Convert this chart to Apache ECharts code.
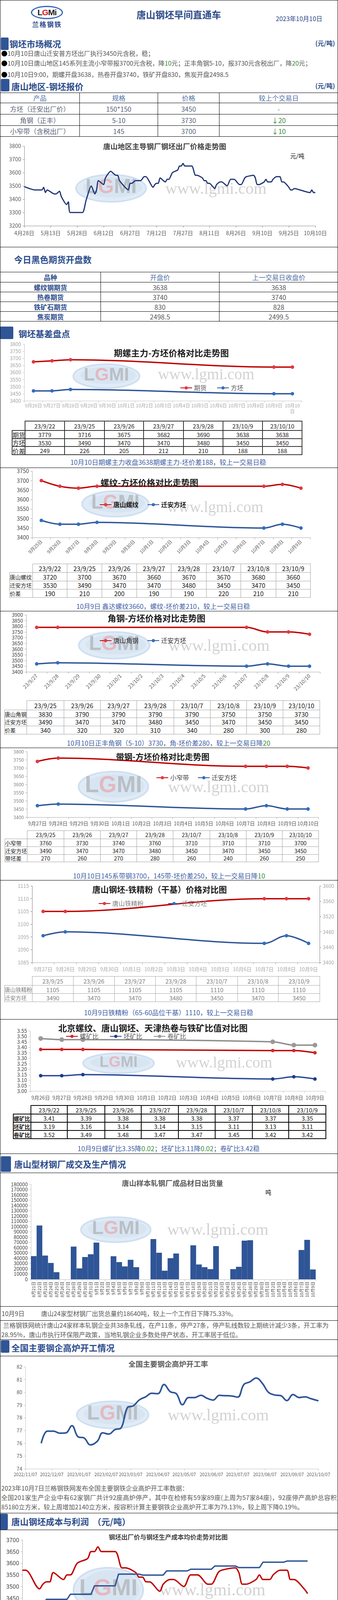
<!DOCTYPE html>
<html lang="zh-CN">
<head>
<meta charset="utf-8">
<title>唐山钢坯早间直通车</title>
<script src="https://cdn.jsdelivr.net/npm/echarts@6/dist/echarts.min.js"></script>
<style>
html,body{margin:0;padding:0;background:#fff;}
#page{position:relative;width:864px;height:4286px;overflow:hidden;font-family:"Noto Sans CJK SC","Noto Sans",sans-serif;color:#595959;background:#fff;}
.g{color:#3C8C3C;}
</style>
</head>
<body>
<div id="page"></div>
<script>
// ================= DATA =================
const quoteProducts = ['方坯（迁安出厂价）','角钢（正丰）','小窄带（含税出厂）'];
const quoteSpecs    = ['150*150','5-10','145'];
const quotePrices   = ['3450','3730','3700'];
const quoteChanges  = ['-','↓20','↓10'];

const futNames     = ['螺纹钢期货','热卷期货','铁矿石期货','焦炭期货'];
const futOpen      = ['3638','3740','830','2498.5'];
const futPrevClose = ['3638','3740','828','2499.5'];

// 迁安方坯出厂价 (chart 1 and chart 10)
const billetDates = ['04-28','05-01','05-04','05-08','05-09','05-10','05-11','05-15','05-16','05-18','05-19','05-22','05-23','05-24','05-31','06-02','06-05','06-07','06-08','06-09','06-12','06-13','06-16','06-19','06-20','06-21','06-26','06-27','06-28','06-30','07-03','07-05','07-06','07-10','07-11','07-12','07-13','07-14','07-17','07-18','07-19','07-21','07-24','07-25','07-26','07-27','07-28','08-01','08-03','08-04','08-07','08-08','08-09','08-10','08-11','08-14','08-15','08-17','08-18','08-21','08-23','08-25','08-28','08-29','08-31','09-01','09-05','09-06','09-07','09-08','09-11','09-12','09-13','09-15','09-16','09-18','09-20','09-21','09-22','09-25','09-26','09-27','09-28','10-07','10-08','10-09','10-10'];
const billetPrices = [3495,3480,3470,3470,3490,3450,3470,3440,3440,3460,3420,3360,3380,3300,3300,3390,3500,3440,3470,3540,3510,3560,3610,3580,3580,3540,3470,3520,3520,3540,3540,3570,3570,3490,3510,3520,3520,3560,3530,3550,3550,3600,3620,3650,3650,3670,3650,3650,3580,3580,3560,3540,3540,3520,3520,3480,3510,3530,3530,3500,3550,3550,3510,3510,3560,3570,3580,3560,3510,3510,3530,3550,3530,3530,3550,3570,3570,3530,3530,3490,3470,3470,3480,3450,3470,3450,3450];

// 期螺主力-方坯
const c2Cats     = ['9/26','9/27','9/28','9/29','9/30','10/1','10/2','10/3','10/4','10/5','10/6','10/7','10/8','10/9','10/10'];
const c2TabDates = ['9/22','9/25','9/26','9/27','9/28','10/9','10/10'];
const c2Futures  = [3779,3716,3675,3682,3690,3638,3638];
const c2Billet   = [3530,3490,3470,3470,3480,3450,3450];
const c2Spread   = [249,226,205,212,210,188,188];

// 螺纹-方坯
const c3Cats     = ['9/25','9/26','9/27','9/28','9/29','9/30','10/1','10/2','10/3','10/4','10/5','10/6','10/7','10/8','10/9'];
const c3TabDates = ['9/22','9/25','9/26','9/27','9/28','10/7','10/8','10/9'];
const c3Rebar    = [3720,3700,3670,3660,3670,3670,3680,3660];
const c3Billet   = [3530,3490,3470,3470,3480,3450,3470,3450];
const c3Spread   = [190,210,200,190,190,220,210,210];

// 角钢-方坯
const c4Cats     = ['9/27','9/28','9/29','9/30','10/1','10/2','10/3','10/4','10/5','10/6','10/7','10/8','10/9','10/10'];
const c4TabDates = ['9/25','9/26','9/27','9/28','10/7','10/8','10/9','10/10'];
const c4Angle    = [3830,3790,3790,3790,3790,3750,3750,3730];
const c4Billet   = [3490,3470,3470,3480,3450,3470,3450,3450];
const c4Spread   = [340,320,320,310,340,280,300,280];

// 带钢-方坯
const c5Cats     = ['9/27','9/28','9/29','9/30','10/1','10/2','10/3','10/4','10/5','10/6','10/7','10/8','10/9','10/10'];
const c5TabDates = ['9/25','9/26','9/27','9/28','10/7','10/8','10/9','10/10'];
const c5Strip    = [3760,3730,3740,3760,3710,3710,3710,3700];
const c5Billet   = [3490,3470,3470,3480,3450,3470,3450,3450];
const c5Spread   = [270,260,270,280,260,240,260,250];

// 钢坯-铁精粉
const c6Cats     = ['9/27','9/28','9/29','9/30','10/1','10/2','10/3','10/4','10/5','10/6','10/7','10/8','10/9'];
const c6TabDates = ['9/25','9/26','9/27','9/28','10/7','10/8','10/9'];
const c6Ore      = [1105,1105,1105,1105,1110,1110,1110];
const c6Billet   = [3490,3470,3470,3480,3450,3470,3450];

// 比值
const c7Cats     = ['9/26','9/27','9/28','9/29','9/30','10/1','10/2','10/3','10/4','10/5','10/6','10/7','10/8','10/9'];
const c7TabDates = ['9/22','9/25','9/26','9/27','9/28','10/7','10/8','10/9'];
const c7Rebar    = [3.41,3.39,3.38,3.38,3.38,3.37,3.37,3.35];
const c7Billet   = [3.19,3.16,3.14,3.14,3.15,3.11,3.13,3.11];
const c7Coil     = [3.52,3.49,3.48,3.47,3.47,3.45,3.42,3.42];

// 唐山样本轧钢厂成品材日出货量
const c8Dates = ['8月21日','8月22日','8月23日','8月24日','8月25日','8月26日','8月27日','8月28日','8月29日','8月30日','8月31日','9月1日','9月2日','9月3日','9月4日','9月5日','9月6日','9月7日','9月8日','9月9日','9月10日','9月11日','9月12日','9月13日','9月14日','9月15日','9月16日','9月17日','9月18日','9月19日','9月20日','9月21日','9月22日','9月23日','9月24日','9月25日','9月26日','9月27日','9月28日','9月29日','9月30日','10月1日','10月2日','10月3日','10月4日','10月5日','10月6日','10月7日','10月8日','10月9日'];
const c8Values = [44000,102000,45000,31000,13500,null,null,62000,20700,42200,47400,69600,null,null,43700,32600,24400,37000,23000,null,null,76300,50400,16300,40000,48900,null,null,64400,28100,23000,19300,63000,null,null,19300,23700,73300,74100,null,null,null,null,null,null,null,null,55600,74800,18640];

// 全国主要钢企高炉开工率
const bfDates = ['2022-11-25','2022-12-02','2022-12-09','2022-12-16','2022-12-23','2022-12-30','2023-01-06','2023-01-13','2023-01-20','2023-01-28','2023-02-03','2023-02-10','2023-02-17','2023-02-24','2023-03-03','2023-03-10','2023-03-17','2023-03-24','2023-03-31','2023-04-07','2023-04-14','2023-04-21','2023-04-28','2023-05-05','2023-05-12','2023-05-19','2023-05-26','2023-06-02','2023-06-09','2023-06-16','2023-06-21','2023-06-30','2023-07-07','2023-07-14','2023-07-21','2023-07-28','2023-08-04','2023-08-11','2023-08-18','2023-08-25','2023-09-01','2023-09-08','2023-09-15','2023-09-22','2023-09-28','2023-10-07'];
const bfRates = [76.0,76.95,76.95,76.79,76.81,77.38,76.51,76.41,75.87,76.16,76.82,76.72,77.07,77.2,78.77,78.94,79.41,79.64,79.92,79.89,80.61,80.05,79.89,79.02,79.59,79.59,79.76,79.53,79.39,79.76,79.74,79.71,79.62,80.61,80.82,81.12,80.71,80.0,79.79,79.74,79.35,79.82,79.59,79.64,79.51,79.33];

// 钢坯成本均值（月度累计）
const costDates  = ['07-05','07-11','07-12','07-18','07-19','07-25','07-26','08-01','08-02','08-08','08-09','08-15','08-16','08-22','08-23','08-29','08-30','09-05','09-06','09-12','09-13','09-19','09-20','09-26'];
const costValues = [3422,3422,3445,3445,3467,3467,3503,3503,3553,3553,3549,3549,3567,3567,3574,3574,3588,3588,3581,3581,3604,3604,3609,3609];

// ================= HELPERS =================
const page = document.getElementById('page');
const FF = '"Noto Sans CJK SC","Noto Sans",sans-serif';
const plain = v => String(v);
function el(css, html){ const e=document.createElement('div'); e.style.cssText=css; if(html!=null) e.innerHTML=html; page.appendChild(e); return e; }
function txt(x,y,html,css){ return el(`position:absolute;left:${x}px;top:${y}px;transform:translateY(-50%);line-height:1.2;white-space:nowrap;${css||''}`, html); }
function ctxt(cx,y,html,css){ return el(`position:absolute;left:${cx-420}px;width:840px;text-align:center;top:${y}px;transform:translateY(-50%);line-height:1.2;white-space:nowrap;${css||''}`, html); }
function hline(y){ el(`position:absolute;left:0;top:${y}px;width:864px;height:0;border-top:1.5px solid #000;`); }
function sbar(x,y,w,h){ el(`position:absolute;left:${x}px;top:${y}px;width:${w}px;height:${h}px;background:#2F5597;border-radius:3px;`); }
function sect(x,y,t){ txt(x,y,t,'font-size:22px;font-weight:bold;color:#2B4C8C;'); }
function note(cx,y,h){ ctxt(cx,y,h,'font-size:17px;color:#3F5FA8;'); }
function table(left, top, colW, rowH, rows, o){
  let h = `<table style="position:absolute;left:${left}px;top:${top}px;border-collapse:collapse;table-layout:fixed;width:${colW.reduce((a,b)=>a+b,0)}px;font-size:${o.fs}px;color:${o.color};font-family:${FF.replace(/"/g,"'")};">`;
  h += '<colgroup>' + colW.map(w=>`<col style="width:${w}px">`).join('') + '</colgroup>';
  rows.forEach((r,i)=>{
    h += `<tr style="height:${rowH[i]}px">`;
    r.forEach((c,j)=>{
      let st = `border:${o.border};padding:0;text-align:center;white-space:nowrap;overflow:hidden;line-height:1;`;
      if (o.corner && i===0 && j===0) st += 'border-top:none;border-left:none;';
      if (o.cellStyle) st += (o.cellStyle(i,j,c) || '');
      h += `<td style="${st}">${c}</td>`;
    });
    h += '</tr>';
  });
  h += '</table>';
  const d = document.createElement('div'); d.innerHTML = h; page.appendChild(d.firstChild);
}
function mk(top,h){ const d = el(`position:absolute;left:0;top:${top}px;width:864px;height:${h}px;`); return echarts.init(d, null, {renderer:'canvas'}); }
function dnum(s){ const p=s.split('-').map(Number); return Math.round(Date.UTC(p[0],p[1]-1,p[2])/864e5); }
function mdLabel(n){ const t=new Date(n*864e5); return (t.getUTCMonth()+1)+'月'+t.getUTCDate()+'日'; }
function mapSeries(cats, tabDates, vals){ return cats.map(c=>{ const i=tabDates.indexOf(c); return i>=0 ? vals[i] : null; }); }
function mdCN(v){ const p=v.split('/'); return p[0]+'月'+p[1]+'日'; }
function gTitle(x,y,t,fs,color){ return {type:'text', x:x, y:y, silent:true, z:5, style:{text:t, fontSize:fs, fontWeight:'bold', fontFamily:FF, fill:color||'#1a1a1a', align:'center', verticalAlign:'middle'}}; }
function gText(x,y,t,fs,color){ return {type:'text', x:x, y:y, silent:true, z:5, style:{text:t, fontSize:fs, fontFamily:FF, fill:color||'#000', align:'center', verticalAlign:'middle'}}; }
function wm(cx,cy,w,h,tx,ty,fs){
  const lf = Math.min(h*0.75, w/3);
  return [
    {type:'ellipse', silent:true, z:0, shape:{cx:cx,cy:cy,rx:w/2,ry:h/2}, style:{fill:'rgba(178,205,233,0.4)', stroke:'rgba(150,185,225,0.35)', lineWidth:4}},
    {type:'ellipse', silent:true, z:0, shape:{cx:cx+4,cy:cy-2,rx:w/2-14,ry:h/2-9}, style:{fill:'rgba(208,224,241,0.5)'}},
    {type:'text', silent:true, z:0, x:cx, y:cy-2, style:{text:'{a|L}{b|G}{a|MI}', align:'center', verticalAlign:'middle',
      rich:{a:{fontSize:lf, fontWeight:'bold', fontFamily:'Liberation Sans', fill:'rgba(170,170,170,0.65)'}, b:{fontSize:lf, fontWeight:'bold', fontFamily:'Liberation Sans', fill:'rgba(238,150,150,0.55)'}}}},
    {type:'text', silent:true, z:0, x:tx, y:ty, style:{text:'www.lgmi.com', fontSize:fs||40, fontFamily:'"Liberation Serif",serif', fill:'rgba(165,165,165,0.5)', align:'center', verticalAlign:'middle'}}
  ];
}
function compareChart(top, h, o){
  const ch = mk(top, h);
  const yAxes = o.yAxes.map((y,k)=>({type:'value', position:k?'right':'left', min:y.min, max:y.max, interval:y.interval,
    axisLine:{show:true,lineStyle:{color:y.lineColor||o.axisColor}}, axisTick:{show:true,length:4,lineStyle:{color:y.lineColor||o.axisColor}},
    splitLine:{show:false}, axisLabel:{color:y.color, fontSize:y.fs, fontFamily:FF, formatter:y.fmt||plain}}));
  ch.setOption({
    animation:false,
    textStyle:{fontFamily:FF},
    grid:{left:o.grid[0], top:o.grid[1], width:o.grid[2], height:o.grid[3], containLabel:false, outerBoundsMode:'none'},
    legend:{left:o.legend.left, top:o.legend.top, itemGap:o.legend.gap, itemWidth:30, itemHeight:10, orient:'horizontal',
      textStyle:{fontSize:16, color:o.legend.color, fontWeight:o.legend.bold?'bold':'normal', fontFamily:FF}, data:o.series.map(s=>s.name)},
    xAxis:{type:'category', data:o.cats, boundaryGap:true, axisLine:{show:true,lineStyle:{color:o.axisColor}},
      axisTick:{show:true,interval:0,length:5,alignWithLabel:false,lineStyle:{color:o.axisColor}}, splitLine:{show:false},
      axisLabel:{interval:0, rotate:o.rotate||0, margin:o.xmargin, color:o.xColor, fontSize:o.xfs, fontFamily:FF, formatter:o.xfmt, lineHeight:o.xfs+3}},
    yAxis:yAxes,
    series:o.series.map(s=>({type:'line', name:s.name, yAxisIndex:s.yIndex||0, data:s.data, connectNulls:true, smooth:0.35,
      symbol:'circle', symbolSize:s.size||9, showSymbol:true, lineStyle:{width:3.5,color:s.line}, itemStyle:{color:s.marker}, emphasis:{disabled:true}})),
    graphic:[gTitle(o.title.x,o.title.y,o.title.text,o.title.fs,o.title.color)].concat(o.wm?wm.apply(null,o.wm):[])
  });
}
const RED_L='#C00000', RED_M='#E0393E', BLU_L='#2F5597', BLU_M='#2E6FBF';

// ================= HEADER =================
el('position:absolute;left:79px;top:15px;width:76px;height:28px;border:3px solid #2E64B5;border-radius:50%;text-align:center;line-height:28px;font-family:"Liberation Sans",sans-serif;font-weight:bold;font-size:21px;letter-spacing:-1px;',
   '<span style="color:#222">L</span><span style="color:#D02020">G</span><span style="color:#222">M</span><span style="color:#222">i</span>');
el('position:absolute;left:76px;top:52px;width:88px;text-align:center;font-size:17px;font-weight:bold;color:#2B4C8C;letter-spacing:2px;line-height:1.2;', '兰格钢铁');
ctxt(457,37,'唐山钢坯早间直通车','font-size:24px;font-weight:bold;color:#2F4B8A;');
txt(705,48,'2023年10月10日','font-size:16px;color:#2F4B8A;');

// 钢坯市场概况
sbar(2,96,20,32); sect(24,111,'钢坯市场概况');
txt(806,111,'(元/吨)','font-size:16px;font-weight:bold;color:#2B4C8C;');
txt(3,137,'<span style="color:#000">●</span>10月10日唐山迁安普方坯出厂执行3450元含税，稳；','font-size:16px;color:#595959;');
txt(3,162,'<span style="color:#000">●</span>10月10日唐山地区145系列主流小窄带报3700元含税，降<span class="g">10</span>元；正丰角钢5-10，报3730元含税出厂，降<span class="g">20</span>元；','font-size:16px;color:#595959;');
txt(3,191,'<span style="color:#000">●</span>10月10日9:00，期螺开盘3638，热卷开盘3740，铁矿开盘830，焦炭开盘2498.5','font-size:16px;color:#595959;');

// 唐山地区-钢坯报价
sbar(2,202,22,32); sect(29,220,'唐山地区-钢坯报价');
txt(806,220,'(元/吨)','font-size:16px;font-weight:bold;color:#2B4C8C;');
table(0,237,[203,200,157,304],[26,29,29,28],
  [['产品','规格','价格','较上个交易日']].concat(quoteProducts.map((p,i)=>[p,quoteSpecs[i],quotePrices[i],quoteChanges[i]])),
  {fs:17, color:'#5A6478', border:'1.5px solid #000', cellStyle:(i,j,c)=> i===0 ? 'color:#4F6FA8;' : (j===3 && c!=='-' ? 'color:#3C8C3C;' : '')});

// ================= CHART 1 =================
(function(){
  const ch = mk(350,282);
  const base = dnum('2023-04-28');
  ch.setOption({
    animation:false, textStyle:{fontFamily:FF},
    grid:{left:62, top:24, width:744, height:204, containLabel:false, outerBoundsMode:'none'},
    xAxis:{type:'value', min:0, max:165, interval:15, axisLine:{show:true,lineStyle:{color:'#868686'}}, axisTick:{show:true,length:5,lineStyle:{color:'#868686'}},
      splitLine:{show:false}, axisLabel:{margin:12, fontSize:14, color:'#595959', formatter:v=>mdLabel(base+v)}},
    yAxis:{type:'value', min:3200, max:3800, interval:100, axisLine:{show:true,lineStyle:{color:'#868686'}}, axisTick:{show:true,length:4,lineStyle:{color:'#868686'}},
      splitLine:{show:false}, axisLabel:{fontSize:14, color:'#595959', formatter:plain}},
    series:[{type:'line', data:billetDates.map((d,i)=>[dnum('2023-'+d)-base, billetPrices[i]]), symbol:'none', smooth:0.2, lineStyle:{width:3,color:'#1F3473'}, emphasis:{disabled:true}}],
    graphic:[gTitle(421,25,'唐山地区主导钢厂钢坯出厂价格走势图',18.5,'#404040'), gText(760,49,'元/吨',15,'#000')].concat(wm(284,132,180,70,552,135,42))
  });
})();
hline(632);

// ================= FUTURES =================
txt(36,663,'今日黑色期货开盘数','font-size:22px;font-weight:bold;color:#2B4C8C;');
table(0,696,[257,303,304],[26,25,25,25,25],
  [['品种','开盘价','上一交易日收盘价']].concat(futNames.map((n,i)=>[n,futOpen[i],futPrevClose[i]])),
  {fs:17, color:'#595959', border:'1.5px solid #000', cellStyle:(i,j)=> (i===0 && j===0) || (i>0 && j===0) ? 'color:#2B4C8C;font-weight:bold;' : (i===0 ? 'color:#4F6FA8;' : '')});

// ================= 钢坯基差盘点 =================
sbar(0,836,34,32); sect(47,853,'钢坯基差盘点');

// Chart 2
compareChart(868,200,{
  grid:[62,13,709,145], cats:c2Cats, axisColor:'#BFBFBF', xColor:'#A6A6A6', xfs:12, xmargin:5,
  xfmt:v=> v==='10/10' ? '10月10\n日' : mdCN(v),
  yAxes:[{min:3400,max:3800,interval:50,color:'#A6A6A6',fs:13}],
  legend:{left:455, top:112, gap:26, color:'#595959'},
  series:[{name:'期货', data:mapSeries(c2Cats,c2TabDates,c2Futures), line:RED_L, marker:RED_M},
          {name:'方坯', data:mapSeries(c2Cats,c2TabDates,c2Billet), line:BLU_L, marker:BLU_M}],
  title:{x:438,y:36,text:'期螺主力-方坯价格对比走势图',fs:22},
  wm:[272,95,170,62,527,92,40]
});
table(30,1077,[33,101,102,100,102,101,101,101],[24,21,20,21],
  [[''].concat(c2TabDates.map(d=>'23/'+d)), ['期货'].concat(c2Futures), ['方坯'].concat(c2Billet), ['价差'].concat(c2Spread)],
  {fs:15, color:'#262626', border:'2px solid #333', corner:true, cellStyle:(i,j)=> (i>0 && j===0) ? 'text-align:left;font-size:16px;' : ''});
note(430,1183,'10月10日期螺主力收盘3638期螺主力-坯价差188，较上一交易日稳');
hline(1197);

// Chart 3
compareChart(1198,232,{
  grid:[82,8,711,170], cats:c3Cats, axisColor:'#A6A6A6', xColor:'#595959', xfs:12, xmargin:8, rotate:45, xfmt:mdCN,
  yAxes:[{min:3400,max:3750,interval:50,color:'#404040',fs:14}],
  legend:{left:249, top:81, gap:22, color:'#1a1a1a', bold:true},
  series:[{name:'唐山螺纹', data:mapSeries(c3Cats,c3TabDates,c3Rebar), line:RED_L, marker:RED_M},
          {name:'迁安方坯', data:mapSeries(c3Cats,c3TabDates,c3Billet), line:BLU_L, marker:BLU_M}],
  title:{x:382,y:38,text:'螺纹-方坯价格对比走势图',fs:22},
  wm:[295,92,171,66,550,102,40]
});
table(24,1443,[59,88,89,89,88,90,88,90,88],[22,22,21,21],
  [[''].concat(c3TabDates.map(d=>'23/'+d)), ['唐山螺纹'].concat(c3Rebar), ['迁安方坯'].concat(c3Billet), ['价差'].concat(c3Spread)],
  {fs:16, color:'#1a1a1a', border:'1px solid #A0A0A0', corner:true, cellStyle:(i,j)=> (i>0 && j===0) ? 'text-align:left;font-size:14px;' : ''});
note(417,1552,'10月9日 鑫达螺纹3660，螺纹-坯价差210，较上一交易日稳');
hline(1564);

// Chart 4
compareChart(1565,216,{
  grid:[67,9,751,146], cats:c4Cats, axisColor:'#A6A6A6', xColor:'#595959', xfs:13, xmargin:8, rotate:45, xfmt:v=>'23/'+v,
  yAxes:[{min:3400,max:3900,interval:50,color:'#404040',fs:13}],
  legend:{left:249, top:62, gap:22, color:'#262626'},
  series:[{name:'唐山角钢', data:mapSeries(c4Cats,c4TabDates,c4Angle), line:RED_L, marker:RED_M},
          {name:'迁安方坯', data:mapSeries(c4Cats,c4TabDates,c4Billet), line:BLU_L, marker:BLU_M}],
  title:{x:400,y:18,text:'角钢-方坯价格对比走势图',fs:22},
  wm:[292,87,182,69,560,90,42]
});
table(11,1793,[57,95,93,93,95,93,93,93,94],[24,20,21,21],
  [[''].concat(c4TabDates.map(d=>'23/'+d)), ['唐山角钢'].concat(c4Angle), ['迁安方坯'].concat(c4Billet), ['价差'].concat(c4Spread)],
  {fs:16, color:'#1a1a1a', border:'1px solid #A0A0A0', corner:true, cellStyle:(i,j)=> (i>0 && j===0) ? 'text-align:left;font-size:14px;' : ''});
note(431,1902,'10月10日正丰角钢（5-10）3730，角-坯价差280，较上一交易日降<span class="g">20</span>');
hline(1914);

// Chart 5
compareChart(1915,208,{
  grid:[69,9,745,168], cats:c5Cats, axisColor:'#A6A6A6', xColor:'#595959', xfs:13, xmargin:8, xfmt:mdCN,
  yAxes:[{min:3400,max:3800,interval:50,color:'#7F7F7F',fs:12}],
  legend:{left:394, top:63, gap:22, color:'#404040'},
  series:[{name:'小窄带', data:mapSeries(c5Cats,c5TabDates,c5Strip), line:RED_L, marker:RED_M},
          {name:'迁安方坯', data:mapSeries(c5Cats,c5TabDates,c5Billet), line:BLU_L, marker:BLU_M}],
  title:{x:416,y:22,text:'带钢-方坯价格对比走势图',fs:21},
  wm:[290,99,179,78,559,102,42]
});
table(12,2126,[57,94,93,93,93,94,93,92,93],[21,20,20,19],
  [[''].concat(c5TabDates.map(d=>'23/'+d)), ['小窄带'].concat(c5Strip), ['迁安方坯'].concat(c5Billet), ['带坯差'].concat(c5Spread)],
  {fs:14, color:'#1a1a1a', border:'1px solid #A0A0A0', corner:true, cellStyle:(i,j)=> (i>0 && j===0) ? 'text-align:left;font-size:14px;' : ''});
note(432,2242,'10月10日145系带钢3700，145带-坯价差250，较上一交易日降<span class="g">10</span>');
hline(2253);

// Chart 6
compareChart(2254,240,{
  grid:[82,14,735,196], cats:c6Cats, axisColor:'#A6A6A6', xColor:'#A6A6A6', xfs:13, xmargin:9, xfmt:mdCN,
  yAxes:[{min:1085,max:1115,interval:5,color:'#A6A6A6',fs:13,lineColor:'#7F7F7F'},{min:3400,max:3600,interval:40,color:'#A6A6A6',fs:13,lineColor:'#7F7F7F'}],
  legend:{left:246, top:46, gap:62, color:'#7F7F7F'},
  series:[{name:'唐山铁精粉', data:mapSeries(c6Cats,c6TabDates,c6Ore), line:RED_L, marker:RED_M},
          {name:'迁安方坯', yIndex:1, data:mapSeries(c6Cats,c6TabDates,c6Billet), line:BLU_L, marker:BLU_M}],
  title:{x:408,y:23,text:'唐山钢坯-铁精粉（干基）价格对比图',fs:21}
});
table(11,2499,[71,105,105,105,104,106,104,106],[23,21,21],
  [[''].concat(c6TabDates.map(d=>'23/'+d)), ['唐山铁精粉'].concat(c6Ore), ['迁安方坯'].concat(c6Billet)],
  {fs:15, color:'#7F7F7F', border:'1px solid #A6A6A6', corner:true, cellStyle:(i,j)=> (i>0 && j===0) ? 'text-align:left;font-size:14px;' : ''});
note(431,2592,'10月9日铁精粉（65-60品位干基）1110，较上一交易日稳');
hline(2609);

// Chart 7
compareChart(2610,215,{
  grid:[77,29,755,154], cats:c7Cats, axisColor:'#BFBFBF', xColor:'#595959', xfs:13, xmargin:9, xfmt:mdCN,
  yAxes:[{min:3.0,max:3.55,interval:0.05,color:'#404040',fs:13,fmt:v=>v.toFixed(2)}],
  legend:{left:163, top:30, gap:28, color:'#595959'},
  series:[{name:'螺矿比', data:mapSeries(c7Cats,c7TabDates,c7Rebar), line:RED_L, marker:'#D42A2A'},
          {name:'坯矿比', data:mapSeries(c7Cats,c7TabDates,c7Billet), line:'#2B4A96', marker:'#1F3A8A'},
          {name:'卷矿比', data:mapSeries(c7Cats,c7TabDates,c7Coil), line:'#8C8C8C', marker:'#999999', size:12}],
  title:{x:391,y:22,text:'北京螺纹、唐山钢坯、天津热卷与铁矿比值对比图',fs:22},
  wm:[303,112,182,52,573,112,40]
});
table(33,2829,[45,93,96,93,95,94,95,93,95],[22,21,21,21],
  [[''].concat(c7TabDates.map(d=>'23/'+d)), ['螺矿比'].concat(c7Rebar.map(v=>v.toFixed(2))), ['坯矿比'].concat(c7Billet.map(v=>v.toFixed(2))), ['卷矿比'].concat(c7Coil.map(v=>v.toFixed(2)))],
  {fs:15, color:'#1a1a1a', border:'2px solid #000', corner:true, cellStyle:(i,j)=> (i>0 && j===0) ? 'text-align:left;font-weight:bold;font-size:14px;' : ''});
note(431,2940,'10月9日螺矿比3.35降<span class="g">0.02</span>；坯矿比3.11降<span class="g">0.02</span>；卷矿比3.42稳');
hline(2953);

// ================= 型材 =================
sbar(2,2960,26,40); sect(36,2979,'唐山型材钢厂成交及生产情况');
hline(3002);
(function(){
  const ch = mk(3003,340);
  ch.setOption({
    animation:false, textStyle:{fontFamily:FF},
    grid:{left:79, top:29, width:728, height:243, containLabel:false, outerBoundsMode:'none'},
    xAxis:{type:'category', data:c8Dates, boundaryGap:true, axisLine:{show:true,lineStyle:{color:'#BFBFBF'}},
      axisTick:{show:true,interval:0,length:5,lineStyle:{color:'#BFBFBF'}},
      axisLabel:{interval:0, rotate:90, margin:6, fontSize:11, color:'#404040'}},
    yAxis:{type:'value', min:0, max:180000, interval:10000, axisLine:{show:true,lineStyle:{color:'#BFBFBF'}}, axisTick:{show:true,length:4,lineStyle:{color:'#BFBFBF'}},
      splitLine:{show:false}, axisLabel:{fontSize:13, color:'#404040', formatter:plain}},
    series:[{type:'bar', data:c8Values, barCategoryGap:'0%', itemStyle:{color:'#2F5597'}, emphasis:{disabled:true}}],
    graphic:[gTitle(441,26,'唐山样本轧钢厂成品材日出货量',18.5,'#595959'), gText(686,49,'吨',15,'#000')].concat(wm(296,145,179,65,557,147,42))
  });
})();
hline(3344);
txt(4,3363,'10月9日','font-size:16px;color:#595959;');
txt(105,3363,'唐山24家型材钢厂出货总量约18640吨，较上一个工作日下降75.33%。','font-size:16px;color:#595959;');
hline(3380);
txt(8,3393,'兰格钢铁网统计唐山24家样本轧钢企业共38条轧线，在产11条，停产27条，停产轧线数较上期统计减少3条，开工率为','font-size:16px;color:#595959;');
txt(3,3417,'28.95%，唐山市执行环保限产政策，当地轧钢企业多数处停产状态，开工率居于低位。','font-size:16px;color:#595959;');
hline(3429);

// ================= 高炉 =================
sbar(2,3431,22,32); sect(29,3449,'全国主要钢企高炉开工情况');
hline(3471);
(function(){
  const ch = mk(3472,322);
  const s = dnum('2022-11-07'), e = dnum('2023-10-07');
  const cats = [];
  for (let n=s; n<=e; n++){ const t=new Date(n*864e5); cats.push(t.getUTCFullYear()+'/'+String(t.getUTCMonth()+1).padStart(2,'0')+'/'+String(t.getUTCDate()).padStart(2,'0')); }
  const data = cats.map(()=>null);
  bfDates.forEach((d,i)=>{ data[dnum(d)-s] = bfRates[i]; });
  const monthly = (i,v)=> v.slice(8)==='07';
  ch.setOption({
    animation:false, textStyle:{fontFamily:FF},
    grid:{left:65, top:27, width:749, height:261, containLabel:false, outerBoundsMode:'none'},
    xAxis:{type:'category', data:cats, boundaryGap:false, axisLine:{show:true,lineStyle:{color:'#BFBFBF'}},
      axisTick:{show:true,interval:monthly,length:5,lineStyle:{color:'#BFBFBF'}},
      axisLabel:{interval:monthly, margin:9, fontSize:11.5, color:'#595959'}},
    yAxis:{type:'value', min:74, max:82, interval:1, axisLine:{show:true,lineStyle:{color:'#BFBFBF'}}, axisTick:{show:true,length:4,lineStyle:{color:'#BFBFBF'}},
      splitLine:{show:false}, axisLabel:{fontSize:13, color:'#595959', formatter:plain}},
    series:[{type:'line', data:data, connectNulls:true, smooth:0.4, symbol:'none', lineStyle:{width:4,color:'#2F5597'}, emphasis:{disabled:true}}],
    graphic:[gTitle(430,20,'全国主要钢企高炉开工率',18.5,'#595959')].concat(wm(288,150,184,70,558,153,42))
  });
})();
txt(3,3810,'2023年10月7日兰格钢铁网发布全国主要钢铁企业高炉开工率数据：','font-size:16px;color:#595959;');
txt(3,3834,'全国201家生产企业中有62家钢厂共计92座高炉停产，其中在检修有59家89座(上周为57家84座)，92座停产高炉总容积为','font-size:16px;color:#595959;letter-spacing:0.4px;');
txt(3,3858,'85180立方米，较上周增加2140立方米，按容积计算主要钢铁企业高炉开工率为79.13%，较上周下降0.19%。','font-size:16px;color:#595959;');
hline(3873);

// ================= 成本与利润 =================
sbar(0,3875,20,41); sect(29,3894,'唐山钢坯成本与利润&nbsp;&nbsp;（元/吨）');
hline(3916);
(function(){
  const ch = mk(3917,300);
  const base = dnum('2023-07-05'), end = dnum('2023-09-26');
  const red = [];
  billetDates.forEach((d,i)=>{ const n=dnum('2023-'+d); if(n>=base && n<=end) red.push([n-base, billetPrices[i]]); });
  const blue = costDates.map((d,i)=>[dnum('2023-'+d)-base, costValues[i]]);
  ch.setOption({
    animation:false, textStyle:{fontFamily:FF},
    grid:{left:57, top:25, width:738, height:239, containLabel:false, outerBoundsMode:'none'},
    legend:{left:320, top:204, itemGap:36, itemWidth:40, itemHeight:10, textStyle:{fontSize:16, fontWeight:'bold', color:'#404040', fontFamily:FF}, data:['迁安方坯','钢坯成本均值（月度累计）']},
    xAxis:{type:'value', min:0, max:84, interval:7, axisLine:{show:true,lineStyle:{color:'#A6A6A6'}}, axisTick:{show:true,length:5,lineStyle:{color:'#A6A6A6'}},
      splitLine:{show:false}, axisLabel:{margin:10, fontSize:15, color:'#404040', formatter:v=>mdLabel(base+v)}},
    yAxis:{type:'value', min:3300, max:3700, interval:50, axisLine:{show:true,lineStyle:{color:'#A6A6A6'}}, axisTick:{show:true,length:4,lineStyle:{color:'#A6A6A6'}},
      splitLine:{show:false}, axisLabel:{fontSize:15, color:'#404040', formatter:plain}},
    series:[
      {type:'line', name:'迁安方坯', data:red, smooth:0.3, symbol:'none', lineStyle:{width:3.5,color:'#C00000'}, itemStyle:{color:'#C00000'}, emphasis:{disabled:true}},
      {type:'line', name:'钢坯成本均值（月度累计）', data:blue, symbol:'none', lineStyle:{width:3.5,color:'#2F5597'}, itemStyle:{color:'#2F5597'}, emphasis:{disabled:true}}
    ],
    graphic:[gTitle(430,18,'钢坯出厂价与钢坯生产成本均价走势对比图',16,'#404040')].concat(wm(277,153,179,114,543,155,44))
  });
})();
txt(3,4262,'本周（9月27日）唐山地区样本长流程钢厂，钢坯含税累计成本（调研值，不含三费）均值为3613元，周环比增加4元','font-size:16px;color:#595959;');

// outer frame
el('position:absolute;left:0;top:0;width:864px;height:4286px;box-sizing:border-box;border:1.5px solid #000;pointer-events:none;z-index:50;');
</script>
</body>
</html>
